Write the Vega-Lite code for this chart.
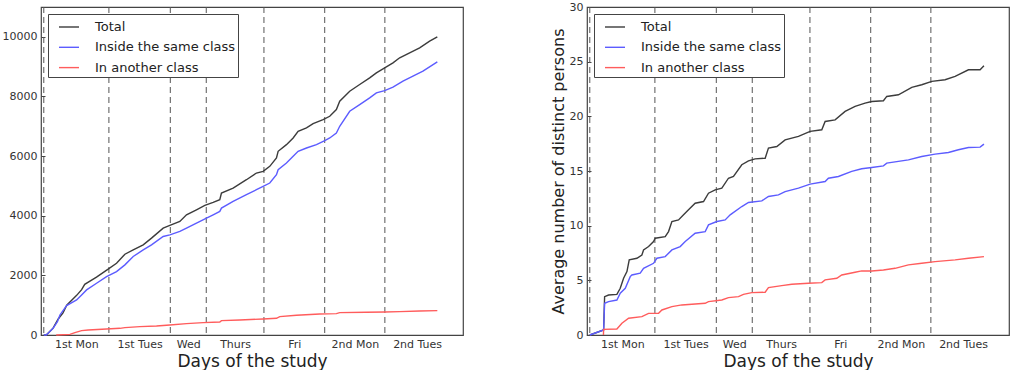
{
  "$schema": "https://vega.github.io/schema/vega-lite/v6.json",
  "background": "white",
  "padding": {"left": 1, "top": 0, "right": 5, "bottom": 0},
  "config": {
    "font": "DejaVu Sans",
    "view": {"stroke": "#444444", "strokeWidth": 1.2},
    "axis": {
      "grid": false,
      "domain": false,
      "labelFont": "DejaVu Sans",
      "labelFontSize": 11,
      "labelColor": "#333333",
      "titleFont": "DejaVu Sans",
      "titleFontWeight": "normal",
      "titleColor": "#222222",
      "tickColor": "#444444"
    },
    "legend": {
      "orient": "top-left",
      "offset": 7,
      "padding": 2,
      "strokeColor": "#444444",
      "fillColor": "white",
      "cornerRadius": 0,
      "symbolType": "stroke",
      "symbolSize": 400,
      "symbolOffset": 8,
      "symbolStrokeWidth": 1.5,
      "labelFont": "DejaVu Sans",
      "labelFontSize": 13,
      "labelColor": "#222222",
      "labelOffset": 15,
      "rowPadding": 2.3
    },
    "line": {"strokeWidth": 1.4}
  },
  "datasets": {
    "days": [
      {"t": 0}, {"t": 10.5}, {"t": 20.4}, {"t": 26.2}, {"t": 35.5}, {"t": 45.3}, {"t": 55.0}
    ],
    "edges": [
      {"t": 0, "s": "Total", "v": 0},
      {"t": 0.4, "s": "Total", "v": 0},
      {"t": 1.5, "s": "Total", "v": 230},
      {"t": 2.3, "s": "Total", "v": 530},
      {"t": 3.1, "s": "Total", "v": 740},
      {"t": 3.7, "s": "Total", "v": 1000},
      {"t": 5.3, "s": "Total", "v": 1330},
      {"t": 6.1, "s": "Total", "v": 1520},
      {"t": 6.6, "s": "Total", "v": 1700},
      {"t": 8.5, "s": "Total", "v": 1940},
      {"t": 10.2, "s": "Total", "v": 2184},
      {"t": 11.73, "s": "Total", "v": 2408},
      {"t": 13.08, "s": "Total", "v": 2710},
      {"t": 14.42, "s": "Total", "v": 2856},
      {"t": 16.03, "s": "Total", "v": 3024},
      {"t": 17.37, "s": "Total", "v": 3248},
      {"t": 19.25, "s": "Total", "v": 3584},
      {"t": 20.33, "s": "Total", "v": 3674},
      {"t": 21.94, "s": "Total", "v": 3808},
      {"t": 23.01, "s": "Total", "v": 4032},
      {"t": 24.62, "s": "Total", "v": 4200},
      {"t": 25.97, "s": "Total", "v": 4346},
      {"t": 27.31, "s": "Total", "v": 4446},
      {"t": 28.38, "s": "Total", "v": 4536},
      {"t": 28.65, "s": "Total", "v": 4760},
      {"t": 30.53, "s": "Total", "v": 4928},
      {"t": 32.68, "s": "Total", "v": 5208},
      {"t": 34.29, "s": "Total", "v": 5432},
      {"t": 35.37, "s": "Total", "v": 5488},
      {"t": 36.44, "s": "Total", "v": 5656},
      {"t": 37.52, "s": "Total", "v": 5936},
      {"t": 37.79, "s": "Total", "v": 6160},
      {"t": 39.13, "s": "Total", "v": 6384},
      {"t": 40.21, "s": "Total", "v": 6608},
      {"t": 41.01, "s": "Total", "v": 6832},
      {"t": 42.36, "s": "Total", "v": 6944},
      {"t": 43.43, "s": "Total", "v": 7090},
      {"t": 45.04, "s": "Total", "v": 7224},
      {"t": 46.11, "s": "Total", "v": 7336},
      {"t": 47.18, "s": "Total", "v": 7560},
      {"t": 47.72, "s": "Total", "v": 7840},
      {"t": 49.33, "s": "Total", "v": 8176},
      {"t": 50.94, "s": "Total", "v": 8400},
      {"t": 52.55, "s": "Total", "v": 8624},
      {"t": 53.63, "s": "Total", "v": 8792},
      {"t": 54.97, "s": "Total", "v": 8960},
      {"t": 56.31, "s": "Total", "v": 9128},
      {"t": 57.39, "s": "Total", "v": 9296},
      {"t": 59.0, "s": "Total", "v": 9464},
      {"t": 60.61, "s": "Total", "v": 9632},
      {"t": 62.22, "s": "Total", "v": 9856},
      {"t": 63.46, "s": "Total", "v": 10000},

      {"t": 0, "s": "Inside the same class", "v": 0},
      {"t": 0.4, "s": "Inside the same class", "v": 0},
      {"t": 1.5, "s": "Inside the same class", "v": 224},
      {"t": 2.2, "s": "Inside the same class", "v": 448},
      {"t": 2.6, "s": "Inside the same class", "v": 672},
      {"t": 3.68, "s": "Inside the same class", "v": 986},
      {"t": 5.29, "s": "Inside the same class", "v": 1176},
      {"t": 6.1, "s": "Inside the same class", "v": 1344},
      {"t": 6.9, "s": "Inside the same class", "v": 1512},
      {"t": 8.51, "s": "Inside the same class", "v": 1736},
      {"t": 10.12, "s": "Inside the same class", "v": 1960},
      {"t": 11.73, "s": "Inside the same class", "v": 2128},
      {"t": 13.08, "s": "Inside the same class", "v": 2352},
      {"t": 14.42, "s": "Inside the same class", "v": 2632},
      {"t": 16.03, "s": "Inside the same class", "v": 2856},
      {"t": 17.37, "s": "Inside the same class", "v": 3024},
      {"t": 19.25, "s": "Inside the same class", "v": 3304},
      {"t": 20.33, "s": "Inside the same class", "v": 3360},
      {"t": 21.94, "s": "Inside the same class", "v": 3472},
      {"t": 23.01, "s": "Inside the same class", "v": 3584},
      {"t": 24.62, "s": "Inside the same class", "v": 3752},
      {"t": 26.24, "s": "Inside the same class", "v": 3920},
      {"t": 27.31, "s": "Inside the same class", "v": 4032},
      {"t": 28.38, "s": "Inside the same class", "v": 4144},
      {"t": 28.65, "s": "Inside the same class", "v": 4256},
      {"t": 30.53, "s": "Inside the same class", "v": 4480},
      {"t": 32.68, "s": "Inside the same class", "v": 4704},
      {"t": 34.29, "s": "Inside the same class", "v": 4872},
      {"t": 35.37, "s": "Inside the same class", "v": 4984},
      {"t": 36.44, "s": "Inside the same class", "v": 5096},
      {"t": 37.52, "s": "Inside the same class", "v": 5376},
      {"t": 37.79, "s": "Inside the same class", "v": 5544},
      {"t": 39.13, "s": "Inside the same class", "v": 5768},
      {"t": 40.21, "s": "Inside the same class", "v": 5992},
      {"t": 41.01, "s": "Inside the same class", "v": 6160},
      {"t": 42.36, "s": "Inside the same class", "v": 6272},
      {"t": 43.97, "s": "Inside the same class", "v": 6384},
      {"t": 45.31, "s": "Inside the same class", "v": 6518},
      {"t": 46.11, "s": "Inside the same class", "v": 6608},
      {"t": 47.18, "s": "Inside the same class", "v": 6776},
      {"t": 47.72, "s": "Inside the same class", "v": 7000},
      {"t": 49.33, "s": "Inside the same class", "v": 7504},
      {"t": 50.94, "s": "Inside the same class", "v": 7728},
      {"t": 52.55, "s": "Inside the same class", "v": 7952},
      {"t": 53.63, "s": "Inside the same class", "v": 8120},
      {"t": 54.97, "s": "Inside the same class", "v": 8198},
      {"t": 56.31, "s": "Inside the same class", "v": 8310},
      {"t": 57.92, "s": "Inside the same class", "v": 8512},
      {"t": 59.53, "s": "Inside the same class", "v": 8680},
      {"t": 61.14, "s": "Inside the same class", "v": 8848},
      {"t": 63.46, "s": "Inside the same class", "v": 9162},

      {"t": 2.0, "s": "In another class", "v": 0},
      {"t": 4.22, "s": "In another class", "v": 22},
      {"t": 5.02, "s": "In another class", "v": 78},
      {"t": 6.1, "s": "In another class", "v": 146},
      {"t": 7.17, "s": "In another class", "v": 168},
      {"t": 10.12, "s": "In another class", "v": 202},
      {"t": 12.27, "s": "In another class", "v": 224},
      {"t": 13.08, "s": "In another class", "v": 246},
      {"t": 15.49, "s": "In another class", "v": 280},
      {"t": 18.18, "s": "In another class", "v": 302},
      {"t": 20.33, "s": "In another class", "v": 336},
      {"t": 23.01, "s": "In another class", "v": 381},
      {"t": 25.7, "s": "In another class", "v": 414},
      {"t": 28.38, "s": "In another class", "v": 437},
      {"t": 28.65, "s": "In another class", "v": 482},
      {"t": 31.61, "s": "In another class", "v": 504},
      {"t": 35.37, "s": "In another class", "v": 538},
      {"t": 37.52, "s": "In another class", "v": 560},
      {"t": 38.05, "s": "In another class", "v": 616},
      {"t": 40.74, "s": "In another class", "v": 661},
      {"t": 44.5, "s": "In another class", "v": 706},
      {"t": 47.18, "s": "In another class", "v": 717},
      {"t": 47.72, "s": "In another class", "v": 750},
      {"t": 52.01, "s": "In another class", "v": 762},
      {"t": 54.97, "s": "In another class", "v": 773},
      {"t": 57.39, "s": "In another class", "v": 784},
      {"t": 60.61, "s": "In another class", "v": 806},
      {"t": 63.46, "s": "In another class", "v": 818}
    ],
    "persons": [
      {"t": 0, "s": "Total", "v": 0},
      {"t": 2.23, "s": "Total", "v": 0.46},
      {"t": 2.39, "s": "Total", "v": 3.51},
      {"t": 3.03, "s": "Total", "v": 3.66},
      {"t": 4.37, "s": "Total", "v": 3.72},
      {"t": 4.91, "s": "Total", "v": 4.27},
      {"t": 5.45, "s": "Total", "v": 5.19},
      {"t": 5.99, "s": "Total", "v": 5.8},
      {"t": 6.36, "s": "Total", "v": 6.87},
      {"t": 7.6, "s": "Total", "v": 7.02},
      {"t": 8.4, "s": "Total", "v": 7.32},
      {"t": 8.67, "s": "Total", "v": 7.78},
      {"t": 9.48, "s": "Total", "v": 8.09},
      {"t": 10.28, "s": "Total", "v": 8.55},
      {"t": 10.55, "s": "Total", "v": 8.85},
      {"t": 12.16, "s": "Total", "v": 9.0},
      {"t": 12.7, "s": "Total", "v": 9.46},
      {"t": 13.24, "s": "Total", "v": 10.38},
      {"t": 14.31, "s": "Total", "v": 10.53},
      {"t": 15.12, "s": "Total", "v": 10.99},
      {"t": 15.92, "s": "Total", "v": 11.45},
      {"t": 16.99, "s": "Total", "v": 12.05},
      {"t": 18.34, "s": "Total", "v": 12.21},
      {"t": 19.14, "s": "Total", "v": 12.97},
      {"t": 20.22, "s": "Total", "v": 13.28},
      {"t": 21.29, "s": "Total", "v": 13.43},
      {"t": 22.36, "s": "Total", "v": 14.34},
      {"t": 23.17, "s": "Total", "v": 14.5},
      {"t": 24.51, "s": "Total", "v": 15.57},
      {"t": 25.59, "s": "Total", "v": 15.93},
      {"t": 26.66, "s": "Total", "v": 16.11},
      {"t": 28.28, "s": "Total", "v": 16.17},
      {"t": 28.81, "s": "Total", "v": 17.09},
      {"t": 30.16, "s": "Total", "v": 17.24},
      {"t": 31.5, "s": "Total", "v": 17.85},
      {"t": 33.65, "s": "Total", "v": 18.16},
      {"t": 35.53, "s": "Total", "v": 18.62},
      {"t": 37.41, "s": "Total", "v": 18.77},
      {"t": 37.95, "s": "Total", "v": 19.53},
      {"t": 39.56, "s": "Total", "v": 19.68},
      {"t": 41.17, "s": "Total", "v": 20.45},
      {"t": 42.78, "s": "Total", "v": 20.91},
      {"t": 44.39, "s": "Total", "v": 21.21},
      {"t": 45.47, "s": "Total", "v": 21.36},
      {"t": 47.35, "s": "Total", "v": 21.43},
      {"t": 47.89, "s": "Total", "v": 21.82},
      {"t": 49.77, "s": "Total", "v": 21.97},
      {"t": 51.92, "s": "Total", "v": 22.65},
      {"t": 53.53, "s": "Total", "v": 22.89},
      {"t": 55.15, "s": "Total", "v": 23.2},
      {"t": 57.29, "s": "Total", "v": 23.35},
      {"t": 58.91, "s": "Total", "v": 23.65},
      {"t": 61.06, "s": "Total", "v": 24.26},
      {"t": 62.94, "s": "Total", "v": 24.26},
      {"t": 63.56, "s": "Total", "v": 24.63},

      {"t": 0, "s": "Inside the same class", "v": 0},
      {"t": 2.23, "s": "Inside the same class", "v": 0.46},
      {"t": 2.39, "s": "Inside the same class", "v": 2.9},
      {"t": 3.03, "s": "Inside the same class", "v": 3.05},
      {"t": 4.37, "s": "Inside the same class", "v": 3.2},
      {"t": 4.91, "s": "Inside the same class", "v": 3.82},
      {"t": 5.72, "s": "Inside the same class", "v": 4.27},
      {"t": 6.52, "s": "Inside the same class", "v": 5.34},
      {"t": 6.79, "s": "Inside the same class", "v": 5.49},
      {"t": 8.13, "s": "Inside the same class", "v": 5.65},
      {"t": 8.67, "s": "Inside the same class", "v": 6.1},
      {"t": 10.28, "s": "Inside the same class", "v": 6.56},
      {"t": 10.82, "s": "Inside the same class", "v": 7.02},
      {"t": 12.16, "s": "Inside the same class", "v": 7.17},
      {"t": 13.24, "s": "Inside the same class", "v": 7.78},
      {"t": 14.58, "s": "Inside the same class", "v": 8.09},
      {"t": 15.39, "s": "Inside the same class", "v": 8.55},
      {"t": 16.99, "s": "Inside the same class", "v": 9.31},
      {"t": 18.61, "s": "Inside the same class", "v": 9.46},
      {"t": 19.14, "s": "Inside the same class", "v": 10.07},
      {"t": 20.49, "s": "Inside the same class", "v": 10.38},
      {"t": 21.83, "s": "Inside the same class", "v": 10.53},
      {"t": 22.64, "s": "Inside the same class", "v": 10.99},
      {"t": 24.51, "s": "Inside the same class", "v": 11.75},
      {"t": 25.59, "s": "Inside the same class", "v": 12.12},
      {"t": 27.74, "s": "Inside the same class", "v": 12.27},
      {"t": 28.81, "s": "Inside the same class", "v": 12.67},
      {"t": 30.42, "s": "Inside the same class", "v": 12.82},
      {"t": 31.5, "s": "Inside the same class", "v": 13.12},
      {"t": 33.65, "s": "Inside the same class", "v": 13.43},
      {"t": 35.53, "s": "Inside the same class", "v": 13.8},
      {"t": 37.95, "s": "Inside the same class", "v": 14.04},
      {"t": 38.48, "s": "Inside the same class", "v": 14.34},
      {"t": 40.09, "s": "Inside the same class", "v": 14.5},
      {"t": 42.24, "s": "Inside the same class", "v": 14.96},
      {"t": 43.85, "s": "Inside the same class", "v": 15.2},
      {"t": 45.47, "s": "Inside the same class", "v": 15.32},
      {"t": 47.35, "s": "Inside the same class", "v": 15.47},
      {"t": 47.89, "s": "Inside the same class", "v": 15.72},
      {"t": 51.38, "s": "Inside the same class", "v": 16.02},
      {"t": 53.53, "s": "Inside the same class", "v": 16.33},
      {"t": 55.68, "s": "Inside the same class", "v": 16.54},
      {"t": 57.83, "s": "Inside the same class", "v": 16.69},
      {"t": 59.44, "s": "Inside the same class", "v": 16.94},
      {"t": 61.06, "s": "Inside the same class", "v": 17.15},
      {"t": 62.94, "s": "Inside the same class", "v": 17.18},
      {"t": 63.56, "s": "Inside the same class", "v": 17.46},

      {"t": 2.2, "s": "In another class", "v": 0},
      {"t": 2.23, "s": "In another class", "v": 0.52},
      {"t": 4.37, "s": "In another class", "v": 0.55},
      {"t": 5.18, "s": "In another class", "v": 1.07},
      {"t": 6.26, "s": "In another class", "v": 1.53},
      {"t": 8.4, "s": "In another class", "v": 1.68},
      {"t": 9.48, "s": "In another class", "v": 1.98},
      {"t": 11.09, "s": "In another class", "v": 1.98},
      {"t": 11.63, "s": "In another class", "v": 2.29},
      {"t": 13.24, "s": "In another class", "v": 2.59},
      {"t": 14.85, "s": "In another class", "v": 2.75},
      {"t": 18.61, "s": "In another class", "v": 2.9},
      {"t": 19.14, "s": "In another class", "v": 3.05},
      {"t": 21.29, "s": "In another class", "v": 3.2},
      {"t": 22.36, "s": "In another class", "v": 3.42},
      {"t": 23.98, "s": "In another class", "v": 3.51},
      {"t": 24.78, "s": "In another class", "v": 3.72},
      {"t": 26.12, "s": "In another class", "v": 3.88},
      {"t": 28.28, "s": "In another class", "v": 3.91},
      {"t": 28.81, "s": "In another class", "v": 4.33},
      {"t": 30.96, "s": "In another class", "v": 4.52},
      {"t": 32.57, "s": "In another class", "v": 4.64},
      {"t": 35.26, "s": "In another class", "v": 4.73},
      {"t": 37.41, "s": "In another class", "v": 4.79},
      {"t": 37.95, "s": "In another class", "v": 5.04},
      {"t": 39.83, "s": "In another class", "v": 5.19},
      {"t": 40.63, "s": "In another class", "v": 5.49},
      {"t": 42.78, "s": "In another class", "v": 5.74},
      {"t": 43.85, "s": "In another class", "v": 5.86},
      {"t": 45.47, "s": "In another class", "v": 5.86},
      {"t": 47.35, "s": "In another class", "v": 5.95},
      {"t": 49.23, "s": "In another class", "v": 6.1},
      {"t": 51.38, "s": "In another class", "v": 6.41},
      {"t": 53.53, "s": "In another class", "v": 6.56},
      {"t": 55.68, "s": "In another class", "v": 6.71},
      {"t": 58.91, "s": "In another class", "v": 6.87},
      {"t": 61.06, "s": "In another class", "v": 7.02},
      {"t": 63.56, "s": "In another class", "v": 7.17}
    ]
  },
  "spacing": 85,
  "resolve": {
    "scale": {"x": "independent", "y": "independent", "color": "independent"},
    "legend": {"color": "independent"}
  },
  "hconcat": [
    {
      "width": 422,
      "height": 328,
      "encoding": {
        "x": {
          "field": "t",
          "type": "quantitative",
          "scale": {"domain": [-0.45, 67.6], "nice": false, "zero": false},
          "axis": {
            "title": "Days of the study",
            "titleFontSize": 17,
            "titlePadding": 4,
            "values": [5.25, 15.45, 23.3, 30.85, 40.4, 50.15, 60.2],
            "tickSize": 0,
            "labelPadding": 3,
            "labelExpr": "datum.value < 10 ? '1st Mon' : datum.value < 20 ? '1st Tues' : datum.value < 26 ? 'Wed' : datum.value < 35 ? 'Thurs' : datum.value < 45 ? 'Fri' : datum.value < 55 ? '2nd Mon' : '2nd Tues'"
          }
        }
      },
      "layer": [
        {
          "data": {"name": "days"},
          "mark": {"type": "rule", "color": "#555555", "strokeWidth": 1, "strokeDash": [6, 4]},
          "encoding": {}
        },
        {
          "data": {"name": "edges"},
          "mark": {"type": "line"},
          "encoding": {
            "y": {
              "field": "v",
              "type": "quantitative",
              "scale": {"domain": [0, 11000], "nice": false},
              "axis": {"title": null, "values": [0, 2000, 4000, 6000, 8000, 10000], "format": "d", "tickSize": -4, "labelPadding": 8}
            },
            "color": {
              "field": "s",
              "type": "nominal",
              "scale": {"domain": ["Total", "Inside the same class", "In another class"], "range": ["#3c3c3c", "#5c5cff", "#ff5c5c"]},
              "legend": {"title": null}
            }
          }
        }
      ]
    },
    {
      "width": 422,
      "height": 328,
      "encoding": {
        "x": {
          "field": "t",
          "type": "quantitative",
          "scale": {"domain": [-0.45, 67.6], "nice": false, "zero": false},
          "axis": {
            "title": "Days of the study",
            "titleFontSize": 17,
            "titlePadding": 4,
            "values": [5.25, 15.45, 23.3, 30.85, 40.4, 50.15, 60.2],
            "tickSize": 0,
            "labelPadding": 3,
            "labelExpr": "datum.value < 10 ? '1st Mon' : datum.value < 20 ? '1st Tues' : datum.value < 26 ? 'Wed' : datum.value < 35 ? 'Thurs' : datum.value < 45 ? 'Fri' : datum.value < 55 ? '2nd Mon' : '2nd Tues'"
          }
        }
      },
      "layer": [
        {
          "data": {"name": "days"},
          "mark": {"type": "rule", "color": "#555555", "strokeWidth": 1, "strokeDash": [6, 4]},
          "encoding": {}
        },
        {
          "data": {"name": "persons"},
          "mark": {"type": "line"},
          "encoding": {
            "y": {
              "field": "v",
              "type": "quantitative",
              "scale": {"domain": [0, 30], "nice": false},
              "axis": {"title": "Average number of distinct persons", "titleFontSize": 16, "titlePadding": 3, "values": [0, 5, 10, 15, 20, 25, 30], "tickSize": -4, "labelPadding": 8}
            },
            "color": {
              "field": "s",
              "type": "nominal",
              "scale": {"domain": ["Total", "Inside the same class", "In another class"], "range": ["#3c3c3c", "#5c5cff", "#ff5c5c"]},
              "legend": {"title": null}
            }
          }
        }
      ]
    }
  ]
}
